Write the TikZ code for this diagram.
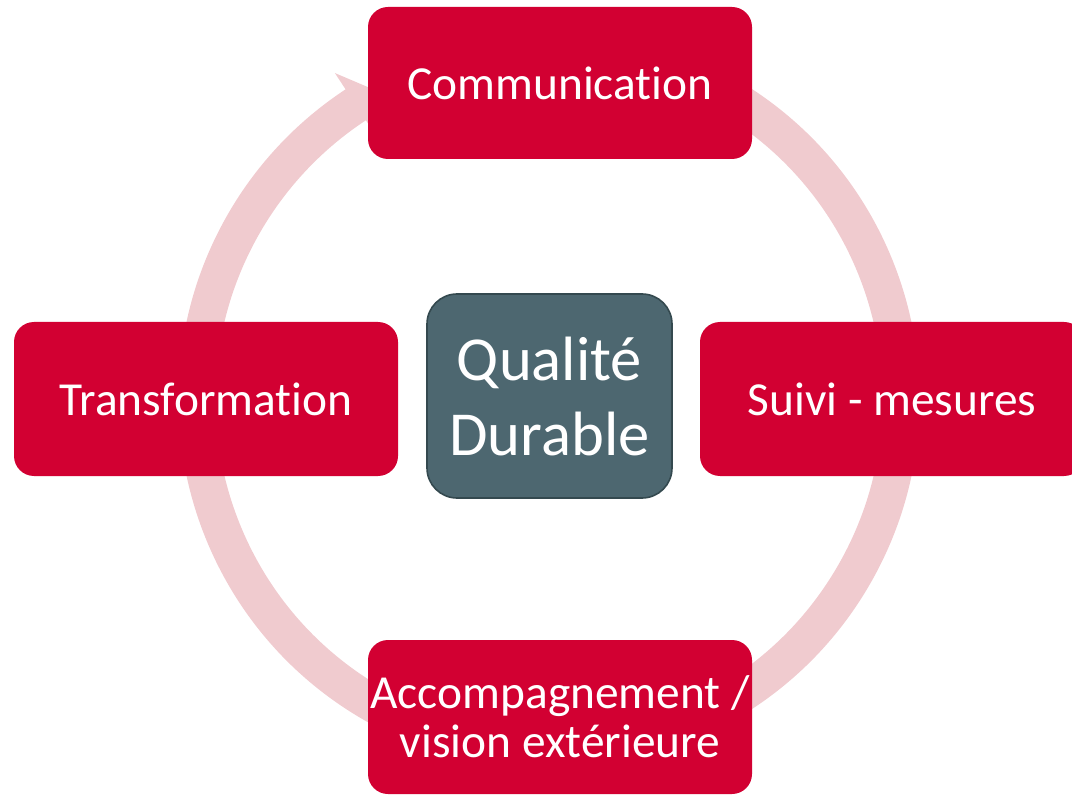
\documentclass[tikz,border=0pt]{standalone}
\usepackage{fontspec}
\setmainfont{Carlito}[Ligatures=NoCommon]
\usepackage{tikz}
\definecolor{boxred}{HTML}{D20032}
\definecolor{ringpink}{HTML}{F0CBCF}
\definecolor{slate}{HTML}{4D6770}
\definecolor{slateline}{HTML}{34494F}
\tikzset{
    redbox/.style={rounded corners=10pt, fill=boxred, text=white, inner sep=0pt,
        minimum width=192pt, minimum height=77pt, align=center,
        font=\fontsize{23.7}{24.5}\selectfont},
    centrebox/.style={rounded corners=15pt, fill=slate, draw=slateline, line width=0.8pt,
        text=white, inner sep=0pt, minimum width=122.5pt, minimum height=102pt,
        align=center, font=\fontsize{31.3}{37.5}\selectfont},
    ring/.style={ringpink, line width=18.5pt}
}
\begin{document}
\begin{tikzpicture}[x=0.5pt, y=0.5pt]
    \useasboundingbox (0, 0) rectangle (1072, 794);
    \coordinate (c) at (549, 395); % centre of the cycle
    % cycle arrow
    \draw [ring] (c) ++(60:352) arc[start angle=60, end angle=-237.7, radius=352];
    \fill [ringpink, shift={(c)}] (123.3:390) -- (119.2:353) -- (123.3:314) -- cycle;
    % steps
    \node [redbox, minimum height=76pt] (1) at (560, 711) {Communication};
    \node [redbox] (2) at (892, 395) {Suivi - mesures};
    \node [redbox] (3) at (560, 77) {Accompagnement /\\vision extérieure};
    \node [redbox] (4) at (206, 395) {Transformation};
    % centre
    \node [centrebox] (0) at (549.5, 398) {Qualité\\Durable};
\end{tikzpicture}
\end{document}
